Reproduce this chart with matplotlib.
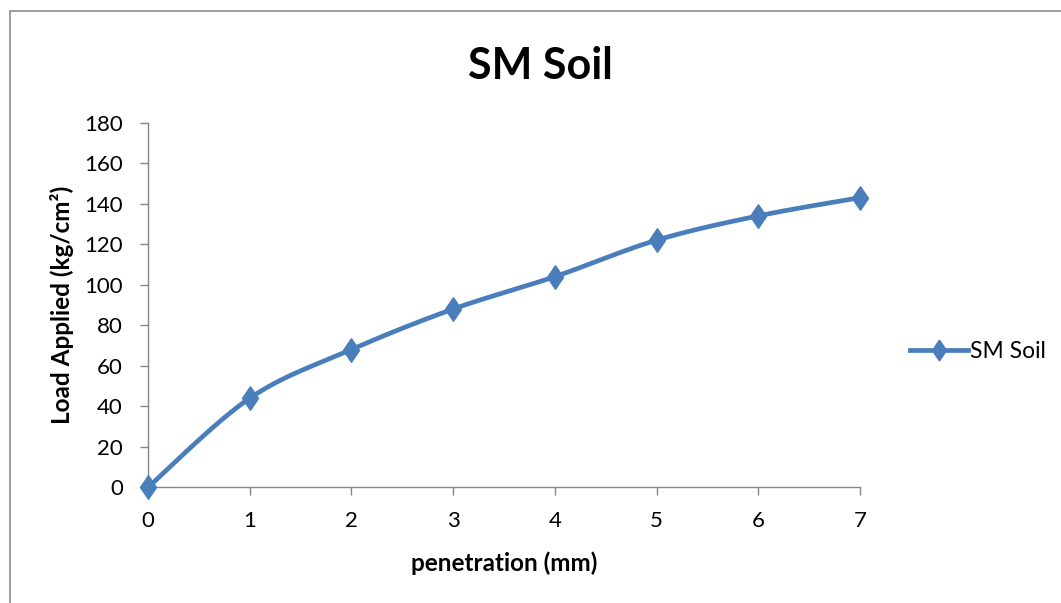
import numpy as np
import matplotlib
matplotlib.use("Agg")
import matplotlib.pyplot as plt
from matplotlib.patches import Rectangle
from matplotlib.lines import Line2D

# data
penetration = [0, 1, 2, 3, 4, 5, 6, 7]
load = [0, 44, 68, 88, 104, 122, 134, 143]
series_name = "SM Soil"
y_ticks = [0, 20, 40, 60, 80, 100, 120, 140, 160, 180]

plt.rcParams["font.family"] = ["Lato", "DejaVu Sans"]

blue = "#4A7EBB"
grey = "#868686"


def smooth(xs, ys, n=30):
    # Excel-like smoothed line: Catmull-Rom through every point
    xs = np.asarray(xs, float)
    ys = np.asarray(ys, float)
    px = np.concatenate([[xs[0]], xs, [xs[-1]]])
    py = np.concatenate([[ys[0]], ys, [ys[-1]]])
    out_x, out_y = [], []
    t = np.linspace(0, 1, n)
    for i in range(1, len(px) - 2):
        p0, p1, p2, p3 = (np.array([px[j], py[j]]) for j in range(i - 1, i + 3))
        c1 = p1 + (p2 - p0) / 6
        c2 = p2 - (p3 - p1) / 6
        b = ((1 - t) ** 3)[:, None] * p1 + (3 * (1 - t) ** 2 * t)[:, None] * c1 \
            + (3 * (1 - t) * t ** 2)[:, None] * c2 + (t ** 3)[:, None] * p2
        out_x.extend(b[:, 0])
        out_y.extend(b[:, 1])
    return out_x, out_y


diamond = [(0, 1), (0.68, 0), (0, -1), (-0.68, 0), (0, 1)]

fig = plt.figure(figsize=(10.61, 6.03), dpi=100)
ax = fig.add_axes([148 / 1061, 1 - 487.3 / 603, 712 / 1061, 364.6 / 603])

sx, sy = smooth(penetration, load)
ax.plot(sx, sy, color=blue, lw=3.4, solid_capstyle="round", clip_on=False, zorder=3)
ax.plot(penetration, load, ls="none", marker=diamond, ms=17, color=blue,
        clip_on=False, zorder=4)

ax.set_xlim(0, 7)
ax.set_ylim(0, 180)
ax.set_xticks(penetration)
ax.set_yticks(y_ticks)
for s in ["top", "right"]:
    ax.spines[s].set_visible(False)
for s in ["left", "bottom"]:
    ax.spines[s].set_color(grey)
    ax.spines[s].set_linewidth(1.0)
ax.tick_params(axis="both", direction="out", length=6, width=1, color=grey,
               labelsize=16)
ax.tick_params(axis="x", pad=11)
ax.tick_params(axis="y", pad=12)

ax.set_xlabel("penetration (mm)", fontsize=17.5, fontweight="bold", va="center")
ax.xaxis.set_label_coords(0.5, (487.3 - 563) / 364.6)
ax.set_ylabel("Load Applied (kg/cm²)", fontsize=17.5, fontweight="bold", va="center")
ax.yaxis.set_label_coords((62 - 148) / 712, 0.5)
fig.text(540 / 1061, 1 - 66 / 603, "SM Soil", fontsize=31, fontweight="bold",
         ha="center", va="center")

# legend
leg_handle = Line2D([0], [0], color=blue, lw=3.4, marker=diamond, ms=15)
ax.legend([leg_handle], [series_name], loc="center left",
          bbox_to_anchor=(899 / 1061, 1 - 352 / 603), bbox_transform=fig.transFigure,
          frameon=False, fontsize=16.5, handlelength=2.5, handletextpad=0.1,
          borderpad=0)

# chart frame
fig.patches.append(Rectangle((9.5 / 1061, -0.05), 1.1, 1.05 - 10.5 / 603,
                             transform=fig.transFigure, fill=False,
                             edgecolor="#8c8c8c", lw=1.2))

fig.savefig("out.png", dpi=100)
